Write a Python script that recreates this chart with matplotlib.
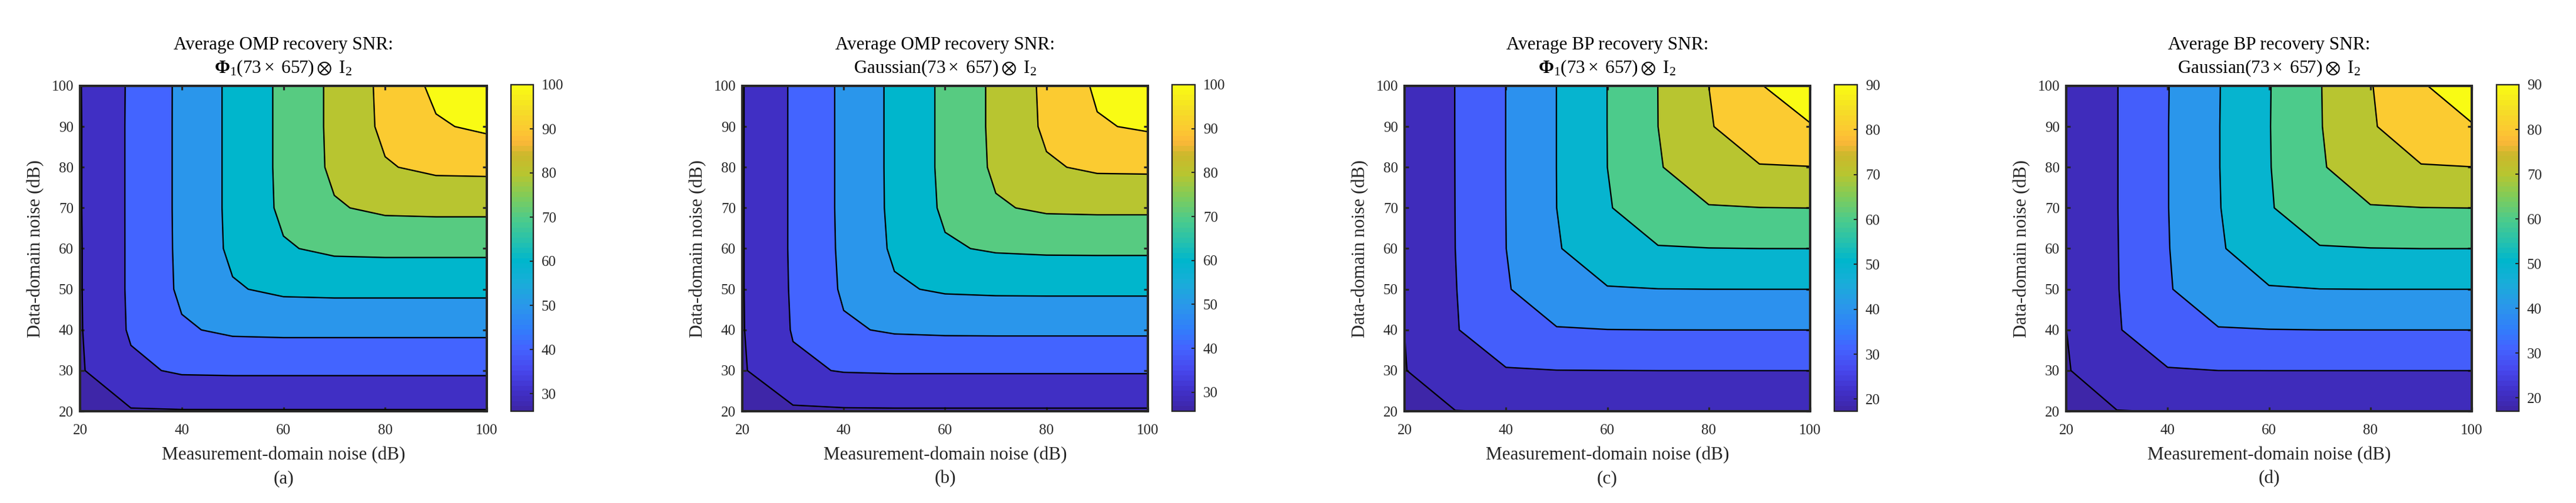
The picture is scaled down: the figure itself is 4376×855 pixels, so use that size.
import numpy as np
import matplotlib
matplotlib.use("Agg")
import matplotlib.pyplot as plt
from matplotlib.cm import ScalarMappable
from matplotlib.colors import LinearSegmentedColormap, Normalize

# Noise grid (dB), same for all panels.
noise = [20, 30, 40, 50, 60, 70, 80, 90, 100]

# Recovery SNR, one row per data-domain noise.
snr_omp_phi = [
    [26.0, 29.3, 29.5, 29.5, 29.5, 29.5, 29.5, 29.5, 29.5],
    [29.1, 38.2, 41.2, 41.5, 41.5, 41.5, 41.5, 41.5, 41.5],
    [29.4, 41.1, 49.0, 51.6, 52.0, 52.0, 52.0, 52.0, 52.0],
    [29.5, 41.4, 51.6, 59.2, 61.8, 62.2, 62.2, 62.2, 62.2],
    [29.5, 41.4, 51.9, 61.8, 69.2, 71.8, 72.2, 72.2, 72.2],
    [29.6, 41.4, 52.0, 62.1, 71.8, 79.2, 81.8, 82.2, 82.2],
    [29.6, 41.4, 52.0, 62.1, 72.1, 81.8, 89.3, 92.0, 92.3],
    [29.6, 41.4, 52.0, 62.1, 72.1, 82.1, 92.0, 99.0, 101.7],
    [29.7, 41.3, 52.0, 62.1, 72.1, 82.1, 92.4, 102.2, 111.0],
]
snr_omp_gauss = [
    [25.7, 28.5, 29.0, 29.1, 29.1, 29.1, 29.1, 29.1, 29.1],
    [29.05, 38.5, 40.5, 40.9, 40.9, 40.9, 40.9, 40.9, 40.9],
    [29.5, 40.6, 48.9, 51.0, 51.5, 51.6, 51.6, 51.6, 51.6],
    [29.6, 41.0, 51.2, 58.9, 61.1, 61.6, 61.7, 61.7, 61.7],
    [29.6, 41.2, 51.7, 61.4, 69.0, 71.0, 71.6, 71.7, 71.7],
    [29.6, 41.2, 51.9, 62.0, 71.5, 79.1, 81.4, 81.7, 81.7],
    [29.6, 41.2, 51.9, 62.1, 72.0, 81.6, 89.0, 91.5, 91.7],
    [29.6, 41.2, 51.9, 62.1, 72.0, 82.0, 91.6, 99.2, 101.2],
    [29.6, 41.2, 51.9, 62.1, 72.0, 82.0, 92.0, 101.4, 110.0],
]
snr_bp_phi = [
    [17.3, 19.85, 20.2, 20.2, 20.2, 20.2, 20.2, 20.2, 20.2],
    [19.65, 27.0, 29.4, 29.9, 29.97, 30.02, 30.02, 30.02, 30.02],
    [20.05, 29.4, 37.0, 39.4, 39.9, 40.0, 40.02, 40.02, 40.02],
    [20.2, 29.7, 39.2, 47.0, 49.4, 49.9, 50.0, 50.02, 50.02],
    [20.2, 30.0, 39.95, 49.2, 57.0, 59.4, 59.85, 60.0, 60.02],
    [20.2, 30.05, 40.02, 50.0, 59.2, 67.0, 69.4, 69.9, 70.05],
    [20.2, 30.08, 40.05, 50.05, 60.0, 69.2, 77.0, 79.4, 79.8],
    [20.2, 30.1, 40.05, 50.05, 60.05, 70.0, 79.2, 87.0, 89.3],
    [20.2, 30.1, 40.05, 50.05, 60.05, 70.05, 80.0, 89.4, 97.0],
]
snr_bp_gauss = [
    [17.0, 19.8, 20.2, 20.2, 20.2, 20.2, 20.2, 20.2, 20.2],
    [19.3, 26.8, 29.4, 30.0, 30.02, 30.02, 30.02, 30.02, 30.02],
    [19.95, 29.25, 36.9, 39.45, 39.85, 40.0, 40.02, 40.02, 40.02],
    [20.1, 29.6, 39.2, 46.9, 49.3, 49.93, 50.02, 50.02, 50.02],
    [20.1, 29.7, 39.6, 48.8, 56.8, 59.4, 59.85, 60.02, 60.02],
    [20.1, 29.8, 39.8, 49.5, 59.2, 66.9, 69.4, 69.9, 70.05],
    [20.1, 29.8, 39.8, 49.7, 59.6, 68.9, 76.9, 79.4, 79.9],
    [20.1, 29.8, 39.8, 49.7, 59.7, 69.5, 78.9, 86.9, 89.3],
    [20.1, 29.8, 39.7, 49.6, 59.6, 69.6, 79.5, 89.0, 96.5],
]

omp_levels = [30, 40, 50, 60, 70, 80, 90, 100]
bp_levels = [20, 30, 40, 50, 60, 70, 80, 90]
axis_ticks_x = [20, 40, 60, 80, 100]
axis_ticks_y = [20, 30, 40, 50, 60, 70, 80, 90, 100]

titles = [
    "Average OMP recovery SNR:\n" + r"$\mathbf{\Phi}_{1}\mathrm{(73}\times\mathrm{\ 657)}\otimes\mathrm{\ I}_{2}$",
    "Average OMP recovery SNR:\n" + r"$\mathrm{Gaussian(73}\times\mathrm{\ 657)}\otimes\mathrm{\ I}_{2}$",
    "Average BP recovery SNR:\n" + r"$\mathbf{\Phi}_{1}\mathrm{(73}\times\mathrm{\ 657)}\otimes\mathrm{\ I}_{2}$",
    "Average BP recovery SNR:\n" + r"$\mathrm{Gaussian(73}\times\mathrm{\ 657)}\otimes\mathrm{\ I}_{2}$",
]
captions = ["(a)", "(b)", "(c)", "(d)"]
panels = [snr_omp_phi, snr_omp_gauss, snr_bp_phi, snr_bp_gauss]
panel_levels = [omp_levels, omp_levels, bp_levels, bp_levels]

# pixel extents: axes left/right, colorbar left/right
W, H = 4376, 855
boxes = [
    (136, 827, 868, 906),
    (1261, 1950, 1991, 2030),
    (2386, 3075, 3116, 3155),
    (3510, 4199, 4241, 4279),
]
top_px, bottom_px = 146, 699

# parula-like map, 64 steps as in the colorbar
parula = LinearSegmentedColormap.from_list("parula", [
    (0.0, (0.2422, 0.1504, 0.6603)),
    (0.054, (0.251, 0.188, 0.784)),
    (0.12, (0.278, 0.28, 0.93)),
    (0.19, (0.263, 0.392, 1.0)),
    (0.25, (0.19, 0.50, 0.98)),
    (0.32, (0.165, 0.592, 0.918)),
    (0.39, (0.10, 0.68, 0.85)),
    (0.46, (0.0, 0.714, 0.80)),
    (0.52, (0.15, 0.76, 0.68)),
    (0.59, (0.306, 0.796, 0.541)),
    (0.66, (0.50, 0.80, 0.35)),
    (0.73, (0.722, 0.773, 0.188)),
    (0.79, (0.80, 0.72, 0.17)),
    (0.83, (0.99, 0.72, 0.22)),
    (0.865, (0.988, 0.784, 0.196)),
    (0.93, (0.96, 0.87, 0.15)),
    (1.0, (0.976, 0.984, 0.078)),
], N=64)

plt.rcParams["font.family"] = ["Liberation Serif", "DejaVu Serif"]
plt.rcParams["mathtext.fontset"] = "custom"
plt.rcParams["mathtext.rm"] = "Liberation Serif"
plt.rcParams["mathtext.it"] = "Liberation Serif:italic"
plt.rcParams["mathtext.bf"] = "Liberation Serif:bold"
plt.rcParams["mathtext.fallback"] = "stix"

ink = "#262626"
fig = plt.figure(figsize=(W / 100, H / 100), dpi=100)

for i in range(4):
    left, right, cleft, cright = boxes[i]
    z = np.array(panels[i])
    levels = panel_levels[i]
    ax = fig.add_axes([left / W, 1 - bottom_px / H, (right - left) / W, (bottom_px - top_px) / H])
    norm = Normalize(vmin=z.min(), vmax=levels[-1])

    # each band takes the colour of its lower level
    edges = [z.min()] + levels + [max(z.max(), levels[-1]) + 1]
    band_colors = [parula(norm(v)) for v in edges[:-1]]
    ax.contourf(noise, noise, z, levels=edges, colors=band_colors)
    ax.contour(noise, noise, z, levels=levels, colors="k", linewidths=1.7)

    ax.set_xlim(20, 100)
    ax.set_ylim(20, 100)
    ax.set_xticks(axis_ticks_x)
    ax.set_yticks(axis_ticks_y)
    ax.tick_params(direction="in", top=True, right=True, length=5, width=2.3,
                   color=ink, labelcolor=ink, labelsize=18)
    ax.tick_params(axis="x", pad=15.5)
    ax.tick_params(axis="y", pad=8)
    for s in ax.spines.values():
        s.set_linewidth(2.9)
        s.set_color(ink)
    ax.set_xlabel("Measurement-domain noise (dB)", fontsize=22.5, color=ink, labelpad=12)
    ax.set_ylabel("Data-domain noise (dB)", fontsize=22.5, color=ink, labelpad=9)
    ax.set_title(titles[i], fontsize=22.5, color="k", pad=16, linespacing=1.32)
    ax.text(0.5, -0.208, captions[i], transform=ax.transAxes, ha="center", va="center",
            fontsize=22.5, color=ink)

    cax = fig.add_axes([cleft / W, 1 - bottom_px / H, (cright - cleft) / W, (bottom_px - top_px + 2) / H])
    cb = fig.colorbar(ScalarMappable(norm=norm, cmap=parula), cax=cax)
    cb.set_ticks(levels)
    cax.tick_params(direction="in", length=4.5, width=1.5, color=ink, labelcolor=ink,
                    labelsize=18, pad=10)
    cb.outline.set_linewidth(1.7)
    cb.outline.set_edgecolor(ink)

fig.savefig("out.png", dpi=100)
